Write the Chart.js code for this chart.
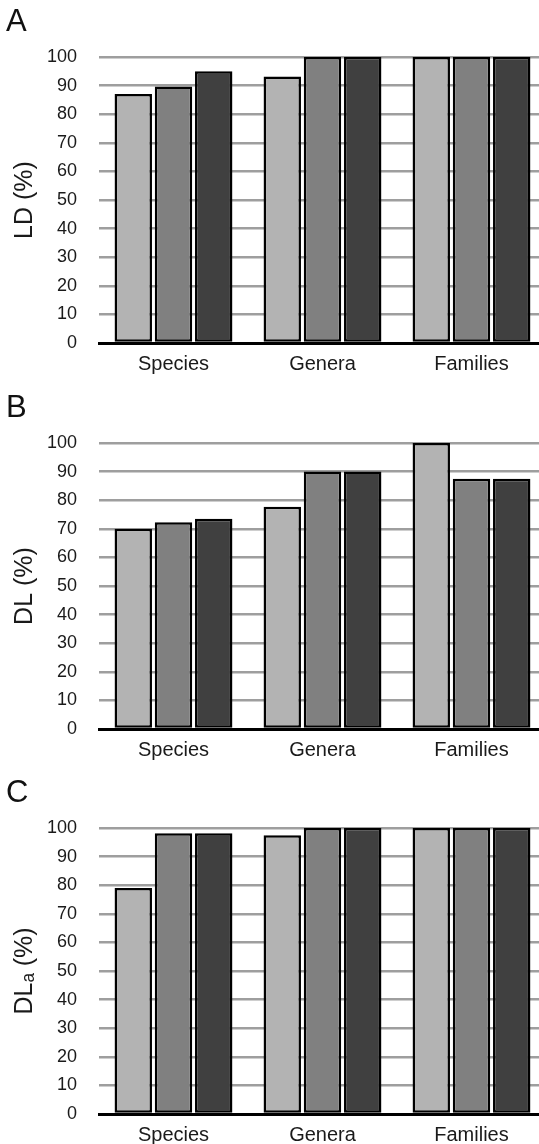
<!DOCTYPE html>
<html>
<head>
<meta charset="utf-8">
<script src="https://cdn.jsdelivr.net/npm/chart.js@4"></script>
<style>
body{margin:0;background:#fff;overflow:hidden;width:539px;height:1144px;position:relative;font-family:"Liberation Sans",Arial,sans-serif;}
.panel{position:absolute;left:0;width:547px;height:386px;}
.panel canvas{position:absolute;left:0;top:0;}
.letter{position:absolute;left:6px;top:5px;font-size:31px;line-height:1;color:#111;}
</style>
</head>
<body>

<div class="panel" style="top:0px"><canvas id="chartA" width="547" height="386"></canvas><div class="letter">A</div></div>
<div class="panel" style="top:386px"><canvas id="chartB" width="547" height="386"></canvas><div class="letter">B</div></div>
<div class="panel" style="top:771px"><canvas id="chartC" width="547" height="386"></canvas><div class="letter">C</div></div>

<script>
const categories = ['Species', 'Genera', 'Families'];
const seriesNames = ['Series 1', 'Series 2', 'Series 3'];
const seriesColors = ['#b3b3b3', '#808080', '#404040'];
const yMin = 0;
const yMax = 100;
const yStep = 10;

// panel A - LD
const ldSeries1 = [87.1, 93.2, 100];
const ldSeries2 = [89.7, 100, 100];
const ldSeries3 = [95, 100, 100];

// panel B - DL
const dlSeries1 = [70, 77.7, 100];
const dlSeries2 = [72.3, 90, 87.5];
const dlSeries3 = [73.5, 90, 87.5];

// panel C - DLa
const dlaSeries1 = [79, 97.5, 100];
const dlaSeries2 = [98.2, 100, 100];
const dlaSeries3 = [98.2, 100, 100];

const fontFamily = '"Liberation Sans", Arial, sans-serif';

function makeChart(canvasId, yTitle, s1, s2, s3){
    const ctx = document.getElementById(canvasId).getContext('2d');
    const allSeries = [s1, s2, s3];
    new Chart(ctx, {
        type: 'bar',
        data: {
            labels: categories,
            datasets: allSeries.map((values, i) => ({
                label: seriesNames[i],
                data: values,
                backgroundColor: seriesColors[i],
                borderColor: '#000000',
                borderWidth: 2.5,
                borderSkipped: false,
                categoryPercentage: 0.81,
                barPercentage: 0.93
            }))
        },
        options: {
            responsive: false,
            animation: false,
            layout: {
                padding: {top: 57, left: 0, right: 1, bottom: 0}
            },
            scales: {
                x: {
                    grid: {display: false},
                    border: {color: '#000000', width: 3},
                    ticks: {
                        color: '#1a1a1a',
                        padding: 1,
                        font: {family: fontFamily, size: 20}
                    },
                    afterFit: function(scale){ scale.height = 43; }
                },
                y: {
                    min: yMin,
                    max: yMax,
                    border: {display: false},
                    grid: {
                        drawTicks: false,
                        lineWidth: 2.5,
                        color: function(c){ return c.tick && c.tick.value === 0 ? 'rgba(0,0,0,0)' : '#9e9e9e'; }
                    },
                    ticks: {
                        stepSize: yStep,
                        color: '#1a1a1a',
                        padding: 22,
                        font: {family: fontFamily, size: 18}
                    },
                    title: {
                        display: true,
                        text: yTitle,
                        color: '#1a1a1a',
                        padding: {top: 10, bottom: 0},
                        font: {family: fontFamily, size: 25}
                    },
                    afterFit: function(scale){ scale.width = 99; }
                }
            },
            plugins: {
                legend: {display: false},
                tooltip: {enabled: false}
            }
        }
    });
}

makeChart('chartA', 'LD (%)', ldSeries1, ldSeries2, ldSeries3);
makeChart('chartB', 'DL (%)', dlSeries1, dlSeries2, dlSeries3);
makeChart('chartC', 'DL\u2090 (%)', dlaSeries1, dlaSeries2, dlaSeries3);
</script>
</body>
</html>
